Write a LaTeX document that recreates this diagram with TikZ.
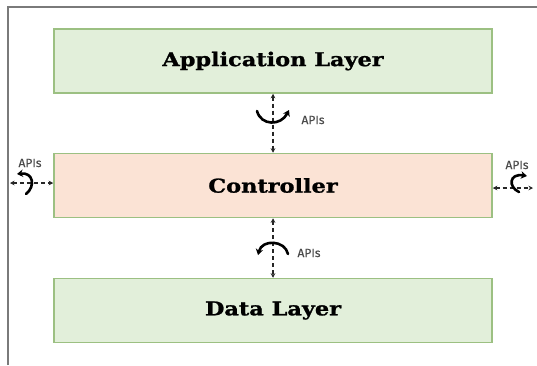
\documentclass[tikz,border=0pt]{standalone}
\usepackage{fontspec}
\setmainfont{DejaVu Serif}
\newfontfamily\layerfont{DejaVu Serif Bold}[FakeBold=1.2, FakeStretch=1.18]
\newfontfamily\apifont{Fira Sans}[FakeBold=0.6]
\usetikzlibrary{arrows.meta}
\definecolor{layergreen}{HTML}{E2EFDA}
\definecolor{layeredge}{HTML}{9CC082}
\definecolor{ctrlfill}{HTML}{FBE3D5}
\definecolor{framegray}{HTML}{7A7A7A}
\definecolor{apigray}{HTML}{4A4A4A}
\begin{document}
\begin{tikzpicture}[x=1pt,y=-1pt,
  layerbox/.style={draw=layeredge, line width=1.5pt, fill=layergreen,
    minimum width=438pt, minimum height=64pt, inner sep=0pt,
    font=\layerfont\fontsize{19}{21}\selectfont},
  ctrlbox/.style={layerbox, fill=ctrlfill},
  apilink/.style={draw=black!85, line width=1.3pt, dash pattern=on 4pt off 3pt,
    {Stealth[length=4.5pt,width=4.5pt]}-{Stealth[length=4.5pt,width=4.5pt]}},
  apicurve/.style={draw=black, line width=2.6pt, line cap=round,
    -{Stealth[length=6pt,width=7.5pt]}},
  apilabel/.style={text=apigray, font=\apifont\fontsize{12}{14}\selectfont, inner sep=0pt}
]
\useasboundingbox (0,0) rectangle (537,365);
% page frame
\draw[framegray, line width=1.8pt] (8,365) -- (8,7) -- (537,7);

% layers
\node[layerbox] (app)  at (273,61)  {\raisebox{-2pt}{Application Layer}};
\node[ctrlbox]  (ctrl) at (273,185.5) {Controller};
\node[layerbox] (data) at (273,310.5) {\raisebox{-1.5pt}{Data Layer}};

% vertical API links
\draw[apilink] (app.south) -- (ctrl.north);
\draw[apilink] (ctrl.south) -- (data.north);

% side API links
\coordinate (lend) at (10,183);
\coordinate (rend) at (533,188);
\draw[apilink] (lend) -- (ctrl.west |- lend);
\draw[apilink] (ctrl.east |- rend) -- (rend);

% curved API markers
\draw[apicurve] (257,111) .. controls (261,126) and (281,126) .. (289,110);
\draw[apicurve] (288,254) .. controls (285,240) and (262,239) .. (258,255);
\draw[apicurve] (26,194) .. controls (36,186) and (33,172) .. (17,174);
\draw[apicurve] (519,192) .. controls (508,187) and (509,173) .. (527,176);

% labels
\node[apilabel] (lbtop)   at (313,120) {APIs};
\node[apilabel] (lbbot)   at (309,253) {APIs};
\node[apilabel] (lbleft)  at (30,163)  {APIs};
\node[apilabel] (lbright) at (517,165) {APIs};
\end{tikzpicture}
\end{document}
